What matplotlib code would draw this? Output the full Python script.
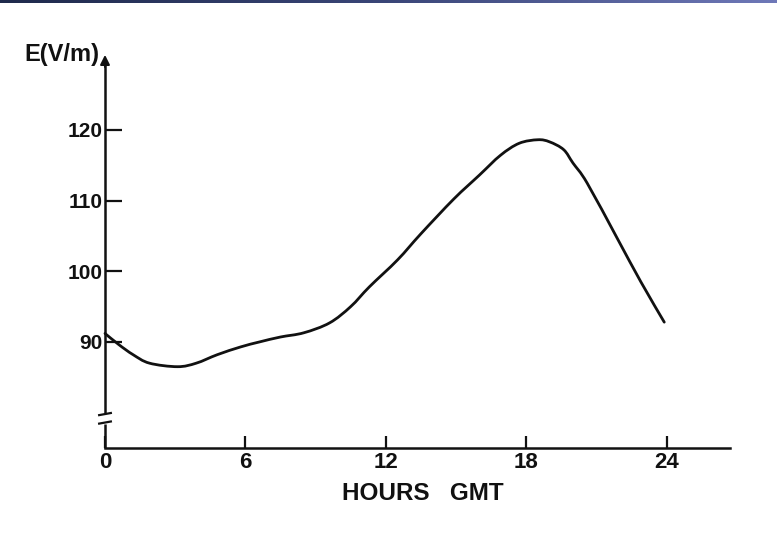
import numpy as np
import matplotlib
matplotlib.use("Agg")
import matplotlib.pyplot as plt
from matplotlib.path import Path
from matplotlib.patches import PathPatch
from matplotlib.colors import LinearSegmentedColormap

# ---- data ----
hours = [0.0, 0.6, 1.2, 1.9, 3.1, 3.9, 4.8, 5.8, 6.6, 7.5, 8.5, 9.6, 10.5,
         11.3, 12.5, 13.5, 14.9, 16.0, 16.9, 17.7, 18.5, 19.0, 19.6, 20.0,
         20.6, 21.9, 22.9, 23.9]
field = [91.2, 89.6, 88.2, 87.0, 86.5, 87.0, 88.2, 89.3, 90.0, 90.7, 91.3,
         92.7, 95.0, 97.8, 101.6, 105.3, 110.2, 113.6, 116.4, 118.1, 118.6,
         118.3, 117.2, 115.3, 112.5, 104.6, 98.5, 92.8]
x_ticks = [0, 6, 12, 18, 24]
x_labels = ["0", "6", "12", "18", "24"]
y_ticks = [90, 100, 110, 120]
y_labels = ["90", "100", "110", "120"]
y_label = "E(V/m)"
x_label = "HOURS   GMT"

W, H = 777, 534
fig = plt.figure(figsize=(W / 100, H / 100), dpi=100)
fig.patch.set_facecolor("white")

# top gradient bar
bar = fig.add_axes([0, 1 - 3 / H, 1, 3 / H])
grad = np.linspace(0, 1, 256).reshape(1, -1)
cmap = LinearSegmentedColormap.from_list("g", ["#1f2a4c", "#3a4678", "#6e78b8"])
bar.imshow(grad, aspect="auto", cmap=cmap)
bar.axis("off")

x0, x1 = 105, 730
ytop, ybot = 52, 448
ax = fig.add_axes([x0 / W, 1 - ybot / H, (x1 - x0) / W, (ybot - ytop) / H])
ax.set_xlim(0, (x1 - x0) / 23.4)
ax.set_ylim(75.0, 75.0 + (ybot - ytop) / 7.07)

ink = "#111111"
font = ["Liberation Sans", "DejaVu Sans"]

for s in ["top", "right", "left"]:
    ax.spines[s].set_visible(False)
ax.spines["bottom"].set_linewidth(1.8)
ax.spines["bottom"].set_color(ink)

# smooth curve through the read points (Catmull-Rom as cubic Bezier path)
P = np.column_stack([hours, field])
verts = [tuple(P[0])]
codes = [Path.MOVETO]
n = len(P)
for i in range(n - 1):
    p0 = P[i - 1] if i > 0 else P[i]
    p1, p2 = P[i], P[i + 1]
    p3 = P[i + 2] if i + 2 < n else P[i + 1]
    c1 = p1 + (p2 - p0) / 6.0
    c2 = p2 - (p3 - p1) / 6.0
    verts += [tuple(c1), tuple(c2), tuple(p2)]
    codes += [Path.CURVE4] * 3
ax.add_patch(PathPatch(Path(verts, codes), facecolor="none", edgecolor=ink,
                       lw=2.0, joinstyle="round", capstyle="round",
                       clip_on=False))

# y axis with break
ax.plot([0, 0], [75.0, 78.4], color=ink, lw=1.8, clip_on=False,
        solid_capstyle="butt")
ax.plot([0, 0], [80.0, 129.5], color=ink, lw=1.8, clip_on=False,
        solid_capstyle="butt")
ax.annotate("", xy=(0, 131.0), xytext=(0, 128.5),
            arrowprops=dict(arrowstyle="-|>", color=ink, lw=1.5,
                            mutation_scale=14),
            annotation_clip=False)
for yb in (78.6, 79.8):
    ax.plot([-0.25, 0.25], [yb - 0.15, yb + 0.15], color=ink, lw=1.6,
            clip_on=False)

ax.set_xticks(x_ticks)
ax.set_xticklabels(x_labels, fontfamily=font, fontweight="bold", fontsize=16)
ax.set_yticks(y_ticks)
ax.set_yticklabels(y_labels, fontfamily=font, fontweight="bold", fontsize=15)
ax.tick_params(axis="x", direction="in", length=9, width=1.6, color=ink,
               pad=3, labelcolor=ink)
ax.tick_params(axis="y", direction="in", length=12, width=1.6, color=ink,
               pad=2, labelcolor=ink, left=True)

ax.text(13.6, 75.0 - 45 / 7.07, x_label, ha="center", va="center",
        fontfamily=font, fontweight="bold", fontsize=17.5, color=ink)
ax.text(-0.22, 75.0 + (448 - 55) / 7.07, y_label, ha="right", va="center",
        fontfamily=font, fontweight="bold", fontsize=17, color=ink)

fig.savefig("out.png", dpi=100, facecolor="white")
